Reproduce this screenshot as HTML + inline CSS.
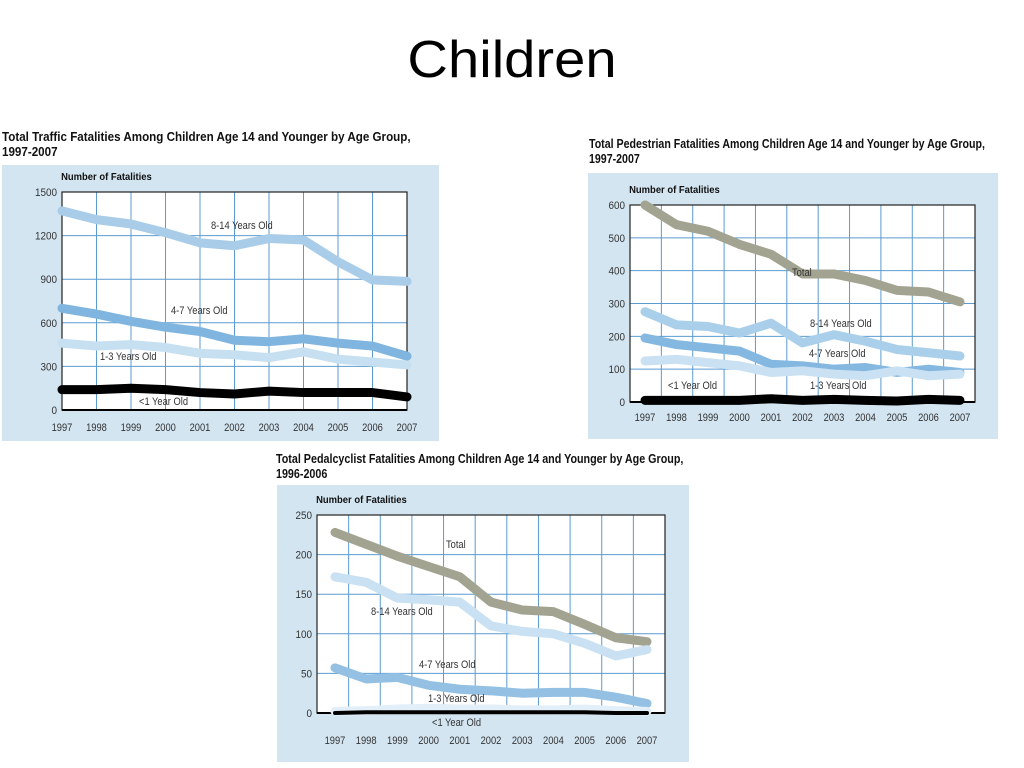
<!DOCTYPE html>
<html><head><meta charset="utf-8"><style>
body{margin:0;width:1024px;height:768px;background:#fff;overflow:hidden;font-family:"Liberation Sans",sans-serif}
svg{position:absolute;left:0;top:0}
</style></head><body>
<svg id="s" width="1024" height="768">
<text x="512" y="77" text-anchor="middle" font-size="52" fill="#000" transform="translate(512,0) scale(1.08,1) translate(-512,0)">Children</text>
</svg>
<script>
const years=["1997","1998","1999","2000","2001","2002","2003","2004","2005","2006","2007"];
// Chart 1: traffic
const c1Ticks=[0,300,600,900,1200,1500];
const c1Age814=[1370,1310,1280,1220,1150,1130,1180,1170,1020,895,885];
const c1Age47=[700,660,610,570,540,480,470,490,460,440,370];
const c1Age13=[460,440,450,430,390,380,360,400,350,330,310];
const c1Under1=[140,140,150,140,120,110,130,120,120,120,90];
// Chart 2: pedestrian
const c2Ticks=[0,100,200,300,400,500,600];
const c2Total=[600,540,520,480,450,390,390,370,340,335,305];
const c2Age814=[275,235,230,210,240,180,205,185,160,150,140];
const c2Age47=[195,175,165,155,115,110,100,105,90,100,90];
const c2Age13=[125,130,120,110,90,95,85,80,95,80,85];
const c2Under1=[5,5,5,5,10,5,8,5,3,8,5];
// Chart 3: pedalcyclist
const c3Ticks=[0,50,100,150,200,250];
const c3Total=[228,213,198,185,172,140,130,128,112,95,90];
const c3Age814=[172,165,145,143,140,110,103,100,88,72,80];
const c3Age47=[57,43,45,35,30,28,25,26,26,20,12];
const c3Age13=[2,3,5,6,5,5,4,4,5,3,2];
const c3Under1=[0,1,1,1,1,1,1,1,1,0,0];

const NS="http://www.w3.org/2000/svg";
const svg=document.getElementById('s');
function mk(tag,attrs,parent,text){const e=document.createElementNS(NS,tag);for(const k in attrs)e.setAttribute(k,attrs[k]);if(text!==undefined)e.textContent=text;(parent||svg).appendChild(e);return e;}

function chart(cfg){
  const g=mk('g',{});
  
  
  const sc=cfg.tscale;
  const t1=mk('text',{x:cfg.tx,y:cfg.ty,'font-size':12.5,'font-weight':'bold',fill:'#111',transform:`translate(${cfg.tx},0) scale(${sc},1) translate(${-cfg.tx},0)`},g,cfg.title1);
  
  
  mk('text',{x:cfg.tx,y:cfg.ty+15,'font-size':12.5,'font-weight':'bold',fill:'#111',transform:`translate(${cfg.tx},0) scale(${sc},1) translate(${-cfg.tx},0)`},g,cfg.title2);
  const bg=mk('rect',{x:cfg.px,y:cfg.py,width:cfg.pw,height:cfg.ph,fill:'#d3e5f1'},g);
  
  
  const L=cfg.l,R=cfg.r,T=cfg.t,B=cfg.b;
  mk('rect',{x:L,y:T,width:R-L,height:B-T,fill:'#fff'},g);
  const ymax=cfg.ticks[cfg.ticks.length-1];
  const ys=v=>B-(v/ymax)*(B-T);
  const xs=i=>cfg.x0+i*(cfg.x1-cfg.x0)/(years.length-1);
  cfg.ticks.forEach(v=>{
    mk('line',{x1:L,x2:R,y1:ys(v),y2:ys(v),stroke:'#5b9bd0','stroke-width':1},g);
    const tl=mk('text',{x:L-5,y:ys(v)+4,'font-size':11,'text-anchor':'end',fill:'#333',transform:`translate(${L-5},0) scale(0.9,1) translate(${-(L-5)},0)`},g,String(v));
    
    
  });
  const n=cfg.grid;
  for(let i=1;i<n;i++){const x=L+i*(R-L)/n;mk('line',{x1:x,x2:x,y1:T,y2:B,stroke:'#5b9bd0','stroke-width':1},g);}
  mk('rect',{x:L,y:T,width:R-L,height:B-T,fill:'none',stroke:'#222','stroke-width':1.2},g);
  mk('line',{x1:L,x2:R,y1:B,y2:B,stroke:'#000','stroke-width':2},g);
  const yt=mk('text',{x:L-1,y:T-12,'font-size':10.5,'font-weight':'bold',fill:'#111',transform:`translate(${L},0) scale(0.9,1) translate(${-L},0)`},g,'Number of Fatalities');
  
  
  years.forEach((y,i)=>{
    const xl=mk('text',{x:xs(i),y:B+cfg.xly,'font-size':11,'text-anchor':'middle',fill:'#333',transform:`translate(${xs(i)},0) scale(0.85,1) translate(${-xs(i)},0)`},g,y);
    
    
  });
  cfg.series.forEach(s=>{
    const p=mk('polyline',{points:s.data.map((v,i)=>xs(i)+','+ys(v)).join(' '),fill:'none',stroke:s.color,'stroke-width':s.w||9,'stroke-linejoin':'round','stroke-linecap':'round'},g);
    
    
  });
  cfg.labels.forEach(lb=>{
    const t=mk('text',{x:lb[1],y:lb[2],'font-size':11,fill:'#333',transform:`translate(${lb[1]},0) scale(0.85,1) translate(${-lb[1]},0)`},g,lb[0]);
    
    
  });
}

chart({name:'traffic-chart',tx:2,ty:141,tscale:0.93,title1:'Total Traffic Fatalities Among Children Age 14 and Younger by Age Group,',title2:'1997-2007',
 px:2,py:165,pw:437,ph:276,l:62,r:407,t:192,b:410,x0:62,x1:407,grid:10,xly:21,ticks:c1Ticks,
 series:[{key:'8-14',data:c1Age814,color:'#a9cde9'},{key:'4-7',data:c1Age47,color:'#80b5df'},{key:'1-3',data:c1Age13,color:'#c6e0f2'},{key:'under-1',data:c1Under1,color:'#000'}],
 labels:[['8-14 Years Old',211,229],['4-7 Years Old',171,314],['1-3 Years Old',100,360],['<1 Year Old',139,405]]});

chart({name:'pedestrian-chart',tx:589,ty:148,tscale:0.85,title1:'Total Pedestrian Fatalities Among Children Age 14 and Younger by Age Group,',title2:'1997-2007',
 px:588,py:173,pw:410,ph:266,l:630,r:975,t:205,b:402,x0:645,x1:960,grid:11,xly:19,ticks:c2Ticks,
 series:[{key:'total',data:c2Total,color:'#a3a391'},{key:'8-14',data:c2Age814,color:'#aacfea'},{key:'4-7',data:c2Age47,color:'#84b8e0'},{key:'1-3',data:c2Age13,color:'#c9e1f2'},{key:'under-1',data:c2Under1,color:'#000'}],
 labels:[['Total',792,276],['8-14 Years Old',810,327],['4-7 Years Old',809,357],['1-3 Years Old',810,389],['<1 Year Old',668,389]]});

chart({name:'pedalcyclist-chart',tx:276,ty:463,tscale:0.86,title1:'Total Pedalcyclist Fatalities Among Children Age 14 and Younger by Age Group,',title2:'1996-2006',
 px:277,py:485,pw:412,ph:277,l:317,r:665,t:515,b:713,x0:335,x1:647,grid:11,xly:31,ticks:c3Ticks,
 series:[{key:'total',data:c3Total,color:'#a3a391'},{key:'8-14',data:c3Age814,color:'#c9e1f2'},{key:'4-7',data:c3Age47,color:'#94c1e3'},{key:'1-3',data:c3Age13,color:'#e3eff8'},{key:'under-1',data:c3Under1,color:'#000',w:4}],
 labels:[['Total',446,548],['8-14 Years Old',371,615],['4-7 Years Old',419,668],['1-3 Years Old',428,702],['<1 Year Old',432,726]]});
</script>
</body></html>
